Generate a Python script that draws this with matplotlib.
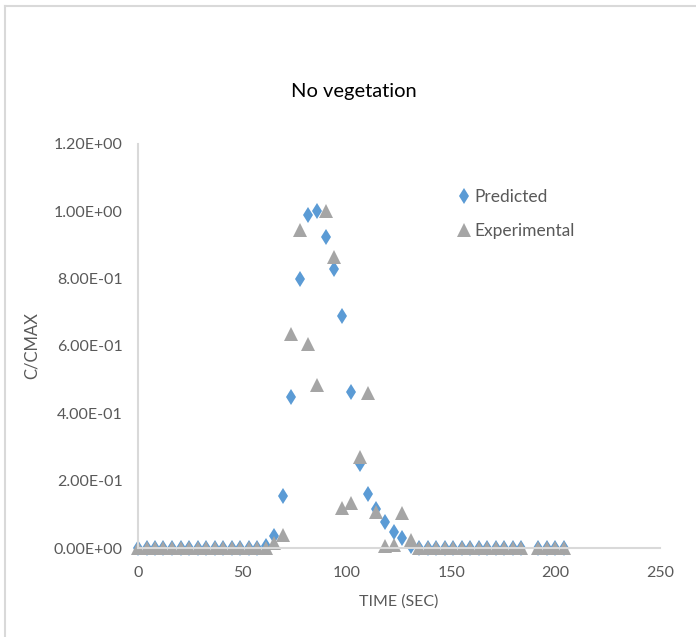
import matplotlib
matplotlib.use("Agg")
import matplotlib.pyplot as plt
from matplotlib.lines import Line2D

plt.rcParams['font.family'] = ['Lato', 'DejaVu Sans']

# sampling times (s), one reading missing near 188 s
time = [0, 4.1, 8.2, 12.2, 16.3, 20.4, 24.5, 28.6, 32.6, 36.7, 40.8, 44.9,
        49.0, 53.0, 57.1, 61.2, 65.3, 69.4, 73.4, 77.5, 81.6, 85.7, 89.8,
        93.8, 97.9, 102.0, 106.1, 110.2, 114.2, 118.3, 122.4, 126.5, 130.6,
        134.6, 138.7, 142.8, 146.9, 151.0, 155.0, 159.1, 163.2, 167.3,
        171.4, 175.4, 179.5, 183.6, 191.8, 195.8, 199.9, 204.0]

predicted = [0, 0, 0, 0, 0, 0, 0, 0, 0, 0, 0, 0,
             0, 0, 0, 0.005, 0.035, 0.155, 0.45, 0.80, 0.99, 1.0, 0.925,
             0.83, 0.69, 0.463, 0.25, 0.16, 0.115, 0.077, 0.048, 0.03, 0.006,
             0, 0, 0, 0, 0, 0, 0, 0, 0,
             0, 0, 0, 0, 0, 0, 0, 0]

experimental = [0, 0, 0, 0, 0, 0, 0, 0, 0, 0, 0, 0,
                0, 0, 0, 0, 0.015, 0.04, 0.635, 0.945, 0.605, 0.485, 1.0,
                0.865, 0.12, 0.135, 0.27, 0.46, 0.107, 0.005, 0.01, 0.105, 0.025,
                0, 0, 0, 0, 0, 0, 0, 0, 0,
                0, 0, 0, 0, 0, 0, 0, 0]

yticks = [0, 0.2, 0.4, 0.6, 0.8, 1.0, 1.2]
xticks = [0, 50, 100, 150, 200, 250]

W, H = 696, 637
fig = plt.figure(figsize=(W / 100, H / 100), dpi=100)
ax = fig.add_axes([138 / W, 1 - 548 / H, (660 - 138) / W, (548 - 144) / H])

# chart area border (top and left edges only show)
border = '#d9d9d9'
fig.add_artist(Line2D([5 / W, 1], [1 - 6 / H, 1 - 6 / H], color=border,
                      linewidth=1.5, transform=fig.transFigure))
fig.add_artist(Line2D([5 / W, 5 / W], [0, 1 - 6 / H], color=border,
                      linewidth=1.5, transform=fig.transFigure))

blue = '#5B9BD5'
grey = '#A5A5A5'
ax.plot(time, predicted, linestyle='none', marker='d', markersize=8.3,
        color=blue, markeredgewidth=0, label='Predicted', clip_on=False)
ax.plot(time, experimental, linestyle='none', marker='^', markersize=9.5,
        color=grey, markeredgewidth=0, label='Experimental', clip_on=False)

ax.set_xlim(0, 250)
ax.set_ylim(0, 1.2)
ax.set_xticks(xticks)
ax.set_yticks(yticks)
ax.set_yticklabels([f"{v:.2E}" for v in yticks])
ax.tick_params(length=0, labelsize=11.5, labelcolor='#595959')
ax.tick_params(axis='y', pad=11)
ax.tick_params(axis='x', pad=13)

for side in ['top', 'right']:
    ax.spines[side].set_visible(False)
for side in ['left', 'bottom']:
    ax.spines[side].set_color(border)
    ax.spines[side].set_linewidth(1.5)

ax.set_xlabel('TIME (SEC)', fontsize=11.5, color='#595959', labelpad=10)
ax.set_ylabel('C/CMAX', fontsize=12, color='#595959', labelpad=10)

fig.text(354 / W, 1 - 92 / H, 'No vegetation', ha='center', va='center',
         fontsize=14.5, color='black')

leg = ax.legend(loc='upper left', bbox_to_anchor=(459 / W, 1 - 189 / H),
                bbox_transform=fig.transFigure, frameon=False, fontsize=12.5,
                handlelength=0.6, handletextpad=0.3, labelspacing=1.05,
                borderpad=0, borderaxespad=0)
for t in leg.get_texts():
    t.set_color('#595959')

fig.savefig('out.png', dpi=100)
